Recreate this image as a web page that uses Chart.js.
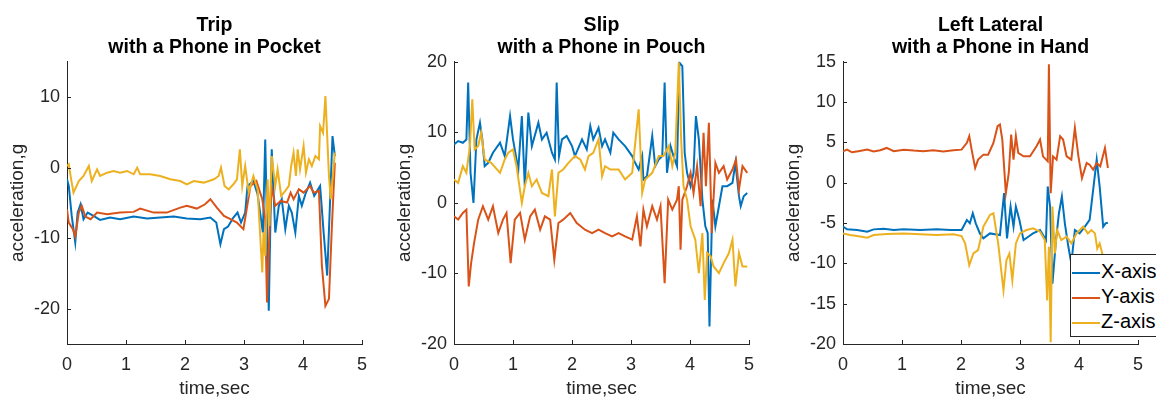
<!DOCTYPE html>
<html>
<head>
<meta charset="utf-8">
<script src="https://cdn.jsdelivr.net/npm/chart.js@4.4.1/dist/chart.umd.min.js"></script>
<style>
    html, body { margin: 0; padding: 0; background: #fff; overflow: hidden; width: 1156px; height: 400px; }
    canvas { position: absolute; top: 0; }
    #legend {
        position: absolute; left: 1070px; top: 254px; width: 120px; height: 81px;
        border: 1.5px solid #262626; background: #fff;
        font-family: 'Liberation Sans', Arial, sans-serif; font-size: 20px; color: #000;
    }
    #legend .row { position: absolute; left: 0; height: 22px; line-height: 22px; white-space: nowrap; }
    #legend .swatch { display: inline-block; width: 28px; height: 0; border-top: 2px solid; vertical-align: middle; margin: 0 1px 0 1px; }
</style>
</head>
<body>
<canvas id="chartTrip" width="380" height="400" style="left:0px"></canvas>
<canvas id="chartSlip" width="380" height="400" style="left:387px"></canvas>
<canvas id="chartLateral" width="380" height="400" style="left:776px"></canvas>
<div id="legend"></div>
<script>
// colores de MATLAB
var colores = ['#0072BD', '#D95319', '#EDB120'];
var nombresEjes = ['X-axis', 'Y-axis', 'Z-axis'];

var tiempoTicks = [0, 1, 2, 3, 4, 5];
var tripTicks = [-20, -10, 0, 10];
var slipTicks = [-20, -10, 0, 10, 20];
var lateralTicks = [-20, -15, -10, -5, 0, 5, 10, 15];

// Trip, telefono en el bolsillo  [tiempo, aceleracion]
var tripX = [[0,-1.65],[0.03,-2.59],[0.08,-6.84],[0.14,-10.6],[0.18,-6.37],[0.23,-5.19],[0.28,-7.31],[0.35,-6.37],[0.45,-6.84],[0.56,-7.41],[0.73,-7.08],[0.90,-7.31],[1.13,-6.93],[1.36,-7.22],[1.58,-7.08],[1.81,-6.93],[2.03,-7.22],[2.26,-7.31],[2.43,-7.08],[2.53,-7.78],[2.60,-10.85],[2.66,-8.73],[2.73,-8.35],[2.82,-7.08],[2.89,-6.37],[2.95,-7.78],[3.02,-6.37],[3.06,-2.59],[3.16,-1.89],[3.23,-3.77],[3.32,-9.2],[3.36,4.0],[3.42,-20.3],[3.47,2.59],[3.53,-9.2],[3.59,-5.42],[3.64,-4.48],[3.70,-8.73],[3.76,-5.42],[3.81,-6.37],[3.87,-9.2],[3.93,-4.0],[3.98,-5.42],[4.04,-3.77],[4.12,-2.12],[4.19,-4.0],[4.29,-2.59],[4.35,-9.2],[4.41,-15.3],[4.46,-4.48],[4.50,4.48],[4.54,1.65]];
var tripY = [[0,-5.9],[0.03,-7.78],[0.10,-8.73],[0.14,-9.76],[0.20,-6.37],[0.25,-5.42],[0.31,-6.93],[0.40,-7.31],[0.51,-6.37],[0.68,-6.6],[0.90,-6.37],[1.13,-6.27],[1.24,-5.8],[1.47,-6.37],[1.69,-6.37],[1.92,-5.66],[2.03,-5.42],[2.20,-5.8],[2.34,-5.19],[2.43,-4.48],[2.54,-5.66],[2.66,-6.84],[2.77,-7.31],[2.88,-7.78],[2.99,-8.73],[3.11,-2.59],[3.21,-1.89],[3.31,-4.48],[3.36,-7.31],[3.39,-19.1],[3.44,-6.84],[3.47,-2.59],[3.53,-5.42],[3.62,-4.72],[3.73,-4.95],[3.79,-3.54],[3.84,-4.48],[3.93,-3.07],[4.01,-3.54],[4.12,-2.59],[4.18,-3.54],[4.27,-3.3],[4.32,-13.9],[4.38,-19.6],[4.44,-18.6],[4.49,-8.25],[4.54,0.7]];
var tripZ = [[0,0.24],[0.03,0.47],[0.07,-1.65],[0.11,-3.54],[0.20,-1.89],[0.28,-1.18],[0.37,0.24],[0.42,-1.89],[0.51,-0.24],[0.56,-1.18],[0.68,-0.71],[0.79,-0.47],[0.90,-0.71],[1.02,-0.47],[1.13,-0.94],[1.19,0],[1.24,-0.94],[1.41,-0.94],[1.58,-1.18],[1.75,-1.65],[1.92,-1.89],[2.03,-2.36],[2.15,-1.89],[2.32,-2.12],[2.49,-1.65],[2.57,-1.18],[2.61,0],[2.67,-2.59],[2.74,-3.07],[2.82,-2.36],[2.88,-1.65],[2.93,2.59],[2.97,-2.59],[3.02,0.24],[3.08,-3.54],[3.16,-1.18],[3.23,-3.07],[3.31,-14.86],[3.33,-9.2],[3.36,-12.5],[3.40,-1.65],[3.43,-8.25],[3.47,1.65],[3.53,-2.59],[3.57,-0.24],[3.63,-4.0],[3.70,-3.3],[3.76,-2.59],[3.80,0.24],[3.84,2.12],[3.88,-1.18],[3.91,2.59],[3.95,-0.24],[4.01,3.07],[4.05,-0.71],[4.10,1.18],[4.15,0.24],[4.21,1.65],[4.27,1.18],[4.29,5.9],[4.34,4.95],[4.38,10.14],[4.44,-1.18],[4.47,-4.48],[4.54,2.12]];

// Slip, telefono en la funda
var slipX = [[0,8.29],[0.07,8.77],[0.15,8.53],[0.21,9.0],[0.24,17.06],[0.28,4.27],[0.33,0],[0.38,9.0],[0.44,11.37],[0.48,9.0],[0.52,5.21],[0.58,5.69],[0.66,7.11],[0.78,8.53],[0.86,6.64],[0.95,12.32],[1.00,9.0],[1.09,4.74],[1.15,12.32],[1.20,2.37],[1.26,12.8],[1.32,8.06],[1.43,11.37],[1.49,9.0],[1.57,9.95],[1.66,7.11],[1.71,6.16],[1.74,17.06],[1.78,6.64],[1.83,9.0],[1.91,9.48],[2.00,8.06],[2.05,6.64],[2.17,9.0],[2.25,7.58],[2.31,10.9],[2.36,9.0],[2.45,10.66],[2.51,8.06],[2.56,9.0],[2.65,7.11],[2.70,9.95],[2.79,9.0],[2.90,8.06],[3.02,6.64],[3.07,5.69],[3.13,4.74],[3.19,6.64],[3.21,3.32],[3.27,3.79],[3.36,9.48],[3.41,5.21],[3.47,6.16],[3.53,6.64],[3.57,17.06],[3.61,4.27],[3.67,8.06],[3.72,6.64],[3.78,5.21],[3.82,19.9],[3.87,19.4],[3.91,7.11],[3.95,4.27],[4.01,2.37],[4.06,4.27],[4.10,12.32],[4.15,9.0],[4.21,0.47],[4.26,-3.32],[4.30,-4.27],[4.33,-17.5],[4.38,0.47],[4.43,-3.32],[4.49,-0.47],[4.55,2.37],[4.63,2.37],[4.72,2.84],[4.77,5.69],[4.83,0.95],[4.86,-0.47],[4.91,0.95],[4.97,1.42]];
var slipY = [[0,-1.9],[0.07,-2.37],[0.15,-1.42],[0.21,-0.95],[0.25,-11.85],[0.29,-8.53],[0.34,-5.69],[0.41,-2.37],[0.49,-0.47],[0.58,-2.37],[0.66,-0.47],[0.75,-4.27],[0.83,-2.37],[0.89,-1.42],[0.96,-8.53],[1.03,-2.37],[1.12,-1.42],[1.20,-5.21],[1.29,-1.9],[1.37,-0.95],[1.46,-3.79],[1.54,-1.9],[1.63,-2.37],[1.70,-8.06],[1.77,-2.84],[1.85,-2.37],[1.97,-1.42],[2.08,-2.84],[2.22,-3.79],[2.34,-4.27],[2.45,-3.79],[2.56,-4.27],[2.68,-4.74],[2.79,-4.27],[2.90,-4.74],[3.02,-5.21],[3.10,-1.9],[3.16,-6.16],[3.21,-0.95],[3.27,-3.32],[3.36,-0.47],[3.44,-2.37],[3.50,-0.47],[3.57,-11.37],[3.63,0.47],[3.70,-0.95],[3.78,0.47],[3.81,2.37],[3.84,-6.64],[3.87,0.47],[3.95,2.37],[4.01,4.27],[4.06,1.42],[4.12,5.21],[4.18,-0.47],[4.23,9.95],[4.27,2.37],[4.32,11.37],[4.37,-4.27],[4.43,5.69],[4.49,4.27],[4.57,5.21],[4.63,3.32],[4.72,4.74],[4.78,6.16],[4.83,1.9],[4.89,5.21],[4.97,4.27]];
var slipZ = [[0,3.32],[0.07,2.84],[0.15,5.21],[0.21,4.27],[0.27,8.06],[0.31,14.69],[0.35,7.58],[0.41,8.06],[0.46,9.95],[0.52,6.16],[0.63,5.69],[0.78,4.27],[0.86,6.16],[0.92,7.11],[1.00,7.58],[1.06,5.21],[1.15,0],[1.20,2.37],[1.26,4.27],[1.32,2.37],[1.40,3.32],[1.49,1.42],[1.60,0.95],[1.66,4.74],[1.71,-1.9],[1.77,4.27],[1.85,4.74],[1.94,5.69],[2.05,6.64],[2.14,6.16],[2.22,4.74],[2.28,6.64],[2.36,7.11],[2.45,9.0],[2.51,3.79],[2.56,5.21],[2.65,4.74],[2.79,4.74],[2.90,3.32],[3.02,4.27],[3.13,13.27],[3.19,1.42],[3.24,3.32],[3.36,4.27],[3.47,6.64],[3.55,6.64],[3.64,8.06],[3.70,5.21],[3.75,7.11],[3.81,19.9],[3.85,9.0],[3.89,2.37],[3.95,0.47],[4.01,-3.32],[4.09,-5.21],[4.15,-9.95],[4.21,-4.27],[4.25,-13.74],[4.29,-7.11],[4.35,-7.58],[4.40,-9.0],[4.49,-9.95],[4.57,-8.53],[4.66,-7.11],[4.72,-5.21],[4.77,-11.85],[4.83,-7.11],[4.89,-9.0],[4.97,-9.0]];

// Left Lateral, telefono en la mano
var lateralX = [[0,-5.44],[0.07,-5.78],[0.24,-5.86],[0.41,-6.07],[0.52,-5.78],[0.69,-5.69],[0.86,-5.86],[1.03,-5.78],[1.31,-5.86],[1.59,-5.78],[1.82,-5.86],[2.01,-5.86],[2.10,-4.61],[2.15,-5.03],[2.20,-3.78],[2.25,-5.03],[2.32,-6.28],[2.38,-6.9],[2.49,-6.28],[2.66,-6.48],[2.73,-1.29],[2.78,-6.9],[2.84,-2.95],[2.89,-5.44],[2.93,-2.95],[2.99,-4.61],[3.06,-7.11],[3.14,-6.69],[3.22,-6.28],[3.34,-5.86],[3.44,-7.11],[3.47,-0.46],[3.51,-2.95],[3.55,-12.51],[3.61,-7.11],[3.66,-3.78],[3.71,-1.7],[3.76,-5.03],[3.82,-7.94],[3.87,-10.02],[3.93,-5.86],[4.01,-6.28],[4.10,-5.44],[4.18,-4.61],[4.24,-0.87],[4.30,2.87],[4.35,-0.46],[4.41,-5.44],[4.45,-5.03],[4.49,-4.95]];
var lateralY = [[0,3.91],[0.07,4.11],[0.15,3.78],[0.26,3.91],[0.41,4.11],[0.52,3.87],[0.63,4.03],[0.74,4.32],[0.86,3.91],[1.03,4.11],[1.20,3.99],[1.36,3.91],[1.53,4.03],[1.70,3.87],[1.87,4.03],[2.01,4.11],[2.10,4.95],[2.14,5.78],[2.18,4.11],[2.24,1.83],[2.29,2.87],[2.38,3.49],[2.46,3.49],[2.55,4.95],[2.62,7.02],[2.66,7.23],[2.70,5.36],[2.76,-1.29],[2.81,1.21],[2.85,5.98],[2.89,2.87],[2.93,5.78],[2.97,3.7],[3.06,3.28],[3.17,3.28],[3.28,4.53],[3.34,5.36],[3.39,3.28],[3.47,2.66],[3.49,14.71],[3.52,-1.29],[3.56,3.28],[3.62,2.87],[3.68,5.78],[3.73,5.36],[3.79,3.28],[3.87,2.87],[3.93,6.82],[3.99,3.28],[4.05,0.58],[4.13,2.45],[4.18,2.24],[4.24,1.62],[4.30,2.45],[4.36,2.04],[4.44,4.32],[4.49,1.83]];
var lateralZ = [[0,-6.28],[0.12,-6.48],[0.24,-6.61],[0.41,-6.82],[0.52,-6.48],[0.74,-6.36],[1.03,-6.28],[1.31,-6.4],[1.59,-6.48],[1.87,-6.4],[2.01,-6.61],[2.07,-7.52],[2.14,-10.22],[2.21,-8.77],[2.29,-8.35],[2.38,-5.44],[2.49,-3.99],[2.55,-3.78],[2.63,-7.52],[2.72,-13.34],[2.77,-9.6],[2.82,-8.77],[2.87,-12.09],[2.93,-7.52],[3.00,-6.28],[3.11,-5.86],[3.22,-5.65],[3.34,-6.07],[3.42,-7.11],[3.46,-14.59],[3.49,-7.94],[3.52,-19.78],[3.55,-2.95],[3.59,-8.77],[3.63,-5.86],[3.70,-7.11],[3.79,-6.69],[3.87,-7.52],[3.96,-6.28],[4.07,-5.44],[4.15,-6.28],[4.21,-5.86],[4.27,-6.28],[4.31,-8.15],[4.35,-7.52],[4.41,-9.2]];

var fuente = "'Liberation Sans', Arial, Helvetica, sans-serif";
var gris = '#262626';

// marcas de los ejes hacia adentro, como en MATLAB
var ticksHaciaAdentro = {
    id: 'ticksHaciaAdentro',
    afterDraw: function (chart) {
        var ctx = chart.ctx;
        var area = chart.chartArea;
        var sx = chart.scales.x;
        var sy = chart.scales.y;
        ctx.save();
        ctx.strokeStyle = gris;
        ctx.lineWidth = 1;
        ctx.beginPath();
        sx.ticks.forEach(function (t) {
            var px = Math.round(sx.getPixelForValue(t.value)) + 0.5;
            ctx.moveTo(px, area.bottom);
            ctx.lineTo(px, area.bottom - 4);
        });
        sy.ticks.forEach(function (t) {
            var py = Math.round(sy.getPixelForValue(t.value)) + 0.5;
            ctx.moveTo(area.left, py);
            ctx.lineTo(area.left + 4, py);
        });
        ctx.stroke();
        ctx.restore();
    }
};

function aPuntos(serie) {
    return serie.map(function (p) { return { x: p[0], y: p[1] }; });
}

function drawPanel(id, titulo, series, yMin, yMax, yTicks) {
    var ctx = document.getElementById(id).getContext('2d');
    return new Chart(ctx, {
        type: 'line',
        data: {
            datasets: series.map(function (s, i) {
                return {
                    label: nombresEjes[i],
                    data: aPuntos(s),
                    borderColor: colores[i],
                    backgroundColor: colores[i],
                    borderWidth: 2,
                    pointRadius: 0,
                    tension: 0,
                    order: 3 - i
                };
            })
        },
        options: {
            responsive: false,
            animation: false,
            layout: { padding: { top: 14, right: 18, bottom: 0, left: 0 } },
            plugins: {
                legend: { display: false },
                tooltip: { enabled: false },
                title: {
                    display: true,
                    text: titulo,
                    fullSize: false,
                    color: '#000',
                    font: { family: fuente, size: 19.5, weight: 'bold', lineHeight: 1.15 },
                    padding: { top: 0, bottom: 3 }
                }
            },
            scales: {
                x: {
                    type: 'linear',
                    min: 0,
                    max: 5,
                    afterFit: function (s) { s.height = 56; },
                    afterBuildTicks: function (s) { s.ticks = tiempoTicks.map(function (v) { return { value: v }; }); },
                    grid: { display: false, drawTicks: false },
                    border: { display: true, color: gris, width: 1 },
                    ticks: { color: gris, font: { family: fuente, size: 18 }, padding: 10, maxRotation: 0 },
                    title: { display: true, text: 'time,sec', color: gris, font: { family: fuente, size: 19 }, padding: { top: 0, bottom: 0 } }
                },
                y: {
                    min: yMin,
                    max: yMax,
                    afterFit: function (s) { s.width = 67; },
                    afterBuildTicks: function (s) { s.ticks = yTicks.map(function (v) { return { value: v }; }); },
                    grid: { display: false, drawTicks: false },
                    border: { display: true, color: gris, width: 1 },
                    ticks: { color: gris, font: { family: fuente, size: 18 }, padding: 7 },
                    title: { display: true, text: 'acceleration,g', color: gris, font: { family: fuente, size: 19 }, padding: { top: 6, bottom: 0 } }
                }
            }
        },
        plugins: [ticksHaciaAdentro]
    });
}

drawPanel('chartTrip', ['Trip', 'with a Phone in Pocket'], [tripX, tripY, tripZ], -25, 15, tripTicks);
drawPanel('chartSlip', ['Slip', 'with a Phone in Pouch'], [slipX, slipY, slipZ], -20, 20, slipTicks);
var chartLateral = drawPanel('chartLateral', ['Left Lateral', 'with a Phone in Hand'], [lateralX, lateralY, lateralZ], -20, 15, lateralTicks);

// leyenda dentro del area del grafico
var leyenda = document.getElementById('legend');
chartLateral.data.datasets.forEach(function (ds, i) {
    var fila = document.createElement('div');
    fila.className = 'row';
    fila.style.top = (5 + i * 25) + 'px';
    fila.innerHTML = '<span class="swatch" style="border-color:' + ds.borderColor + '"></span>' + ds.label;
    leyenda.appendChild(fila);
});
</script>
</body>
</html>
